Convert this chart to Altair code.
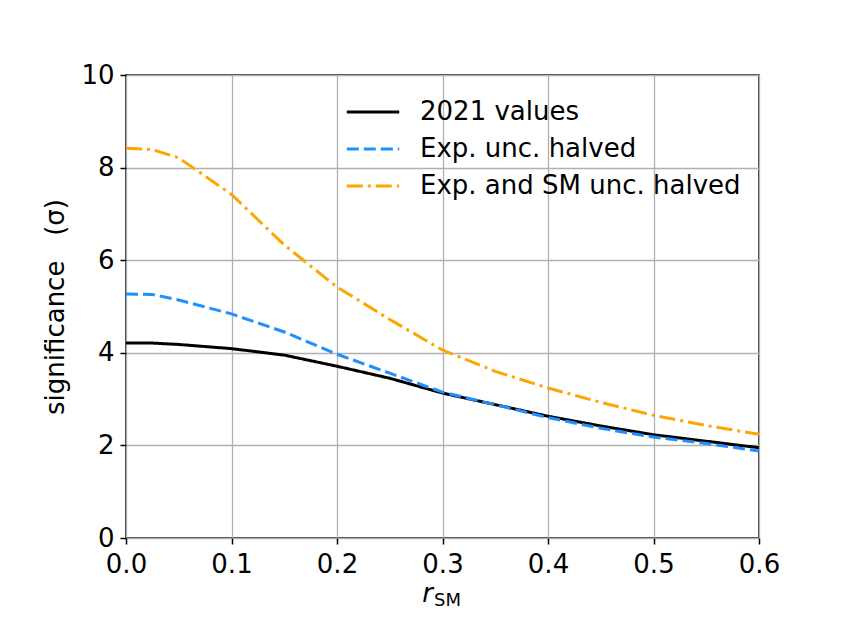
import altair as alt
import pandas as pd

r_sm = [0.0, 0.025, 0.05, 0.1, 0.15, 0.2, 0.25, 0.3, 0.35, 0.4, 0.45, 0.5, 0.55, 0.6]
vals_2021 = [4.21, 4.21, 4.18, 4.09, 3.95, 3.71, 3.45, 3.13, 2.88, 2.63, 2.42, 2.23, 2.09, 1.95]
exp_halved = [5.27, 5.26, 5.14, 4.84, 4.45, 3.97, 3.56, 3.15, 2.88, 2.60, 2.37, 2.18, 2.04, 1.88]
exp_sm_halved = [8.42, 8.39, 8.21, 7.42, 6.33, 5.42, 4.72, 4.06, 3.60, 3.24, 2.93, 2.65, 2.43, 2.24]

series_names = ["2021 values", "Exp. unc. halved", "Exp. and SM unc. halved"]
series_colors = ["#000000", "#1E90FF", "#FFA500"]
series_dashes = [[1, 0], [12, 5], [16, 5, 3, 5]]

rows = []
for name, ys in zip(series_names, [vals_2021, exp_halved, exp_sm_halved]):
    for xv, yv in zip(r_sm, ys):
        rows.append({"r": xv, "sig": yv, "series": name})
df = pd.DataFrame(rows)

FONT = "DejaVu Sans"
FS = 26

color_scale = alt.Scale(domain=series_names, range=series_colors)
dash_scale = alt.Scale(domain=series_names, range=series_dashes)

legend = alt.Legend(
    title=None,
    orient="none",
    legendX=234,
    legendY=24,
    symbolType="M-5,0H5",
    symbolSize=110,
    symbolStrokeWidth=3,
    labelFontSize=FS,
    labelFont=FONT,
    labelColor="black",
    labelOffset=34,
    labelLimit=600,
    rowPadding=11,
    padding=0,
)

base = alt.Chart(df)

def line_layer(name, with_legend):
    return base.transform_filter(alt.datum.series == name).mark_line(strokeWidth=3).encode(
        x=alt.X("r:Q", scale=alt.Scale(domain=[0, 0.6], nice=False),
                axis=alt.Axis(values=[0.0, 0.1, 0.2, 0.3, 0.4, 0.5, 0.6], format=".1f", title=None)),
        y=alt.Y("sig:Q", scale=alt.Scale(domain=[0, 10], nice=False),
                axis=alt.Axis(values=[0, 2, 4, 6, 8, 10], title="significance\u00a0\u00a0\u00a0(σ)")),
        color=alt.Color("series:N", scale=color_scale, legend=legend if with_legend else None),
        strokeDash=alt.StrokeDash("series:N", scale=dash_scale, legend=legend if with_legend else None),
    )

layers = [line_layer(n, i == 0) for i, n in enumerate(series_names)]

x_title_r = alt.Chart(pd.DataFrame({"t": ["r"]})).mark_text(
    font=FONT, fontSize=FS, fontStyle="italic", align="right", baseline="alphabetic"
).encode(text="t:N", x=alt.value(307), y=alt.value(527))

x_title_sm = alt.Chart(pd.DataFrame({"t": ["SM"]})).mark_text(
    font=FONT, fontSize=18, align="left", baseline="alphabetic"
).encode(text="t:N", x=alt.value(308), y=alt.value(531))

chart = alt.layer(*layers, x_title_r, x_title_sm).properties(
    width=633,
    height=463,
    autosize=alt.AutoSizeParams(type="none"),
    padding={"left": 118, "top": 67, "right": 77, "bottom": 87},
).configure_view(
    stroke="black", strokeWidth=1.5
).configure_axis(
    domain=False,
    grid=True,
    gridColor="#b0b0b0",
    gridWidth=1.3,
    ticks=True,
    tickColor="black",
    tickWidth=1.5,
    tickSize=6,
    labelFont=FONT,
    labelFontSize=FS,
    labelColor="black",
    labelPadding=6,
    labelFlush=False,
    labelOverlap=False,
    titleFont=FONT,
    titleFontSize=FS,
    titleFontWeight="normal",
    titleColor="black",
    titlePadding=12,
).configure_axisX(
    labelPadding=7,
)

chart.save("out.html", embed_options={"renderer": "svg", "actions": False})
